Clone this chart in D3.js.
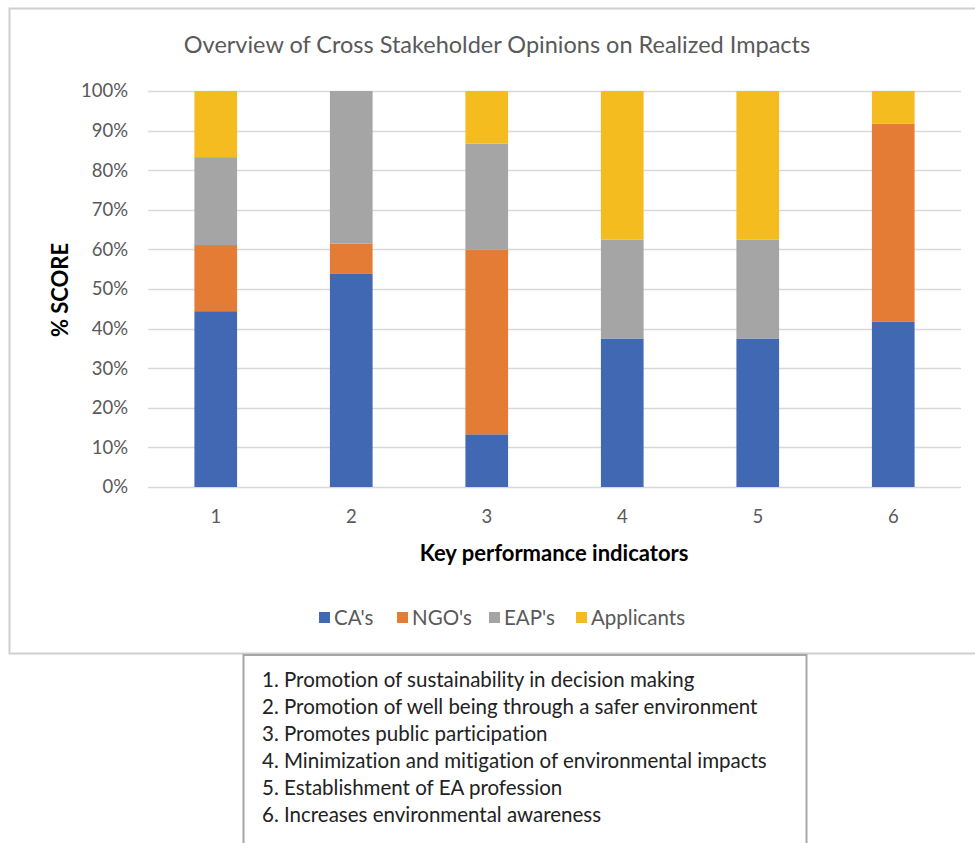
<!DOCTYPE html>
<meta charset="utf-8">
<style>
  body { margin: 0; background: #fff; }
  text { font-family: Lato, "Open Sans", sans-serif; font-variant-ligatures: none; }
</style>
<body>
<script src="https://d3js.org/d3.v7.min.js"></script>
<script>
var width = 975,
    height = 843;

var indicators = ["1", "2", "3", "4", "5", "6"];
var seriesNames = ["CA's", "NGO's", "EAP's", "Applicants"];
var colors = ["#4169b3", "#e57c35", "#a5a5a5", "#f4bc1f"];
var caValues = [44.4, 53.8, 13.3, 37.5, 37.5, 41.7];
var ngoValues = [16.7, 7.7, 46.7, 0, 0, 50.0];
var eapValues = [22.2, 38.5, 26.7, 25.0, 25.0, 0];
var applicantValues = [16.7, 0, 13.3, 37.5, 37.5, 8.3];
var yTicks = [0, 10, 20, 30, 40, 50, 60, 70, 80, 90, 100];
var indicatorLabels = [
  "1. Promotion of sustainability in decision making",
  "2. Promotion of well being through a safer environment",
  "3. Promotes public participation",
  "4. Minimization and mitigation of environmental impacts",
  "5. Establishment of EA profession",
  "6. Increases environmental awareness"
];

var rows = indicators.map(function(k, i) {
  return {key: k, "CA's": caValues[i], "NGO's": ngoValues[i], "EAP's": eapValues[i], "Applicants": applicantValues[i]};
});
var stacked = d3.stack().keys(seriesNames)(rows);

var svg = d3.select("body").append("svg")
    .attr("width", width)
    .attr("height", height);

// chart frame (runs off the right edge)
svg.append("rect")
    .attr("x", 9.5).attr("y", 8.5)
    .attr("width", 1000).attr("height", 645)
    .attr("fill", "#fff")
    .attr("stroke", "#cfcfcf")
    .attr("stroke-width", 2);

var x = d3.scaleBand()
    .domain(indicators)
    .range([148, 961])
    .paddingInner(0.685)
    .paddingOuter(0.3425);

var y = d3.scaleLinear()
    .domain([0, 100])
    .range([487, 91]);

svg.append("text")
    .attr("x", 497).attr("y", 53)
    .attr("text-anchor", "middle")
    .attr("font-size", 23.5)
    .attr("fill", "#595959")
    .text("Overview of Cross Stakeholder Opinions on Realized Impacts");

// gridlines
svg.append("g")
    .selectAll("line")
    .data(yTicks)
    .join("line")
    .attr("x1", 148).attr("x2", 961)
    .attr("y1", function(d) { return Math.round(y(d)) + 0.5; })
    .attr("y2", function(d) { return Math.round(y(d)) + 0.5; })
    .attr("stroke", "#d9d9d9")
    .attr("stroke-width", 1.5);

var yAxis = svg.append("g")
    .attr("transform", "translate(148,0)")
    .call(d3.axisLeft(y).tickValues(yTicks).tickSize(0).tickPadding(20)
      .tickFormat(function(d) { return d + "%"; }));
yAxis.select(".domain").remove();
yAxis.selectAll("text")
    .attr("font-size", 18.5)
    .attr("fill", "#595959")
    .style("font-family", "Lato, sans-serif");

svg.append("g")
    .selectAll("g")
    .data(stacked)
    .join("g")
    .attr("fill", function(d, i) { return colors[i]; })
    .selectAll("rect")
    .data(function(d) { return d; })
    .join("rect")
    .attr("x", function(d) { return x(d.data.key); })
    .attr("y", function(d) { return y(d[1]); })
    .attr("width", x.bandwidth())
    .attr("height", function(d) { return y(d[0]) - y(d[1]); });

var xAxis = svg.append("g")
    .attr("transform", "translate(0,487)")
    .call(d3.axisBottom(x).tickSize(0).tickPadding(23));
xAxis.select(".domain").remove();
xAxis.selectAll("text")
    .attr("font-size", 18.5)
    .attr("fill", "#595959")
    .style("font-family", "Lato, sans-serif");

svg.append("text")
    .attr("x", 554).attr("y", 561)
    .attr("text-anchor", "middle")
    .attr("font-size", 22)
    .attr("font-weight", "bold")
    .attr("fill", "#000")
    .text("Key performance indicators");

svg.append("text")
    .attr("transform", "translate(68,290) rotate(-90)")
    .attr("text-anchor", "middle")
    .attr("font-size", 22)
    .attr("font-weight", "bold")
    .attr("fill", "#000")
    .text("% SCORE");

// legend
var legendX = [319, 397, 489, 576];
var legend = svg.append("g")
    .selectAll("g")
    .data(seriesNames)
    .join("g")
    .attr("transform", function(d, i) { return "translate(" + legendX[i] + ",618)"; });
legend.append("rect")
    .attr("x", 0).attr("y", -6)
    .attr("width", 11).attr("height", 11)
    .attr("fill", function(d, i) { return colors[i]; });
legend.append("text")
    .attr("x", 15).attr("y", 7)
    .attr("font-size", 20.5)
    .attr("fill", "#595959")
    .text(function(d) { return d; });

// indicator key box
svg.append("rect")
    .attr("x", 243.5).attr("y", 655)
    .attr("width", 563).attr("height", 200)
    .attr("fill", "#fff")
    .attr("stroke", "#a6a6a6")
    .attr("stroke-width", 2);

svg.append("g")
    .selectAll("text")
    .data(indicatorLabels)
    .join("text")
    .attr("x", 262)
    .attr("y", function(d, i) { return 687 + i * 27; })
    .attr("font-size", 20.5)
    .attr("fill", "#222")
    .text(function(d) { return d; });
</script>
</body>
